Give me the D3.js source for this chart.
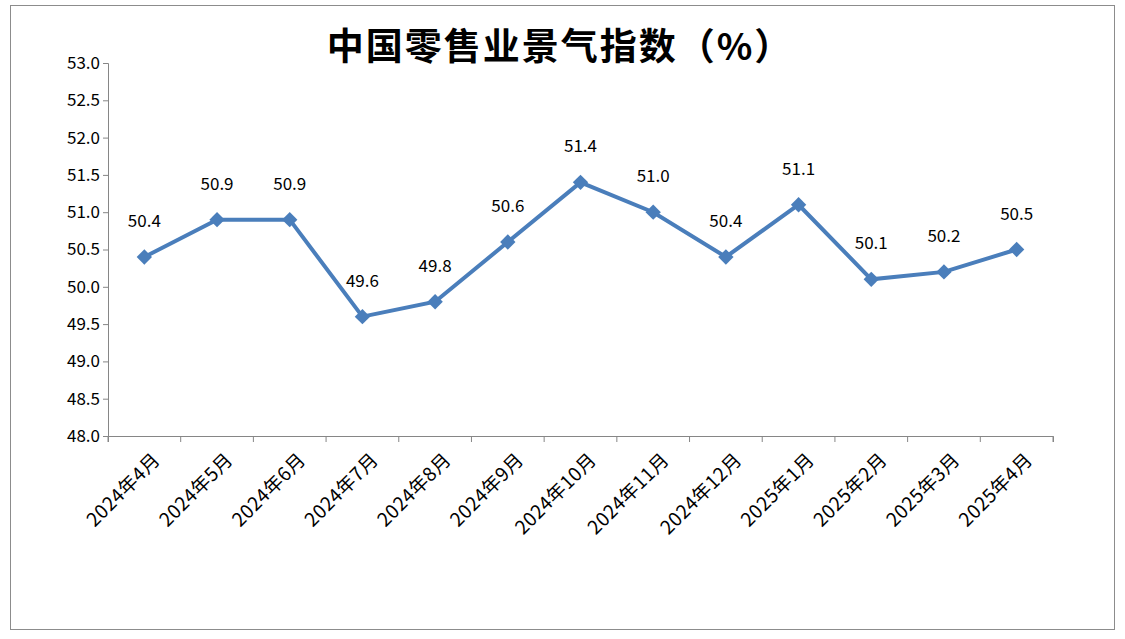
<!DOCTYPE html><html><head><meta charset="utf-8"><script src="https://cdn.jsdelivr.net/npm/d3@7"></script>
<style>body{margin:0;background:#fff}</style></head><body><svg id="c" width="1125" height="639"></svg>
<script>
const categories=["2024年4月","2024年5月","2024年6月","2024年7月","2024年8月","2024年9月","2024年10月","2024年11月","2024年12月","2025年1月","2025年2月","2025年3月","2025年4月"];
const values=[50.4,50.9,50.9,49.6,49.8,50.6,51.4,51.0,50.4,51.1,50.1,50.2,50.5];
const yTicks=[48.0,48.5,49.0,49.5,50.0,50.5,51.0,51.5,52.0,52.5,53.0];
const title="中国零售业景气指数（%）";
const svg=d3.select("#c");
const font="'Noto Sans CJK SC','Noto Sans',sans-serif";
svg.append("rect").attr("x",10.5).attr("y",5.5).attr("width",1104).attr("height",624).attr("fill","none").attr("stroke","#8c8c8c");
const x=d3.scaleBand().domain(categories).range([108,1053]);
const y=d3.scaleLinear().domain([48,53]).range([436,63]);
const c="#4a7ebb";
const ya=svg.append("g").attr("transform","translate(108,0)").call(d3.axisLeft(y).tickValues(yTicks).tickFormat(d3.format(".1f")).tickSizeOuter(0).tickSize(5));
ya.selectAll("text").attr("font-family",font).attr("font-size",17).attr("fill","#000");
ya.selectAll("line,path").attr("stroke","#868686");
const xa=svg.append("g").attr("transform","translate(0,436)").call(d3.axisBottom(x).tickSizeOuter(0).tickSize(6));
xa.selectAll(".tick line").attr("transform",`translate(${-x.bandwidth()/2},0)`);
xa.append("line").attr("x1",1053).attr("x2",1053).attr("y1",0).attr("y2",6).attr("stroke","#868686");
xa.selectAll("line,path").attr("stroke","#868686");
xa.selectAll("text").attr("font-family",font).attr("font-size",19).attr("letter-spacing","0.5px").attr("fill","#000")
 .attr("text-anchor","end").attr("dy","0.35em").attr("transform","translate(6,14) rotate(-45)");
const cx=d=>x(d)+x.bandwidth()/2;
svg.append("path").datum(values).attr("fill","none").attr("stroke",c).attr("stroke-width",4)
 .attr("d",d3.line().x((d,i)=>cx(categories[i])).y(d=>y(d)));
svg.selectAll(".m").data(values).enter().append("path").attr("fill",c)
 .attr("transform",(d,i)=>`translate(${cx(categories[i])},${y(d)})`).attr("d",d3.symbol(d3.symbolDiamond2,150)());
svg.selectAll(".l").data(values).enter().append("text").attr("font-family",font).attr("font-size",17)
 .attr("text-anchor","middle").attr("x",(d,i)=>cx(categories[i])).attr("y",d=>y(d)-30).text(d=>d.toFixed(1));
svg.append("text").attr("x",560).attr("y",60).attr("text-anchor","middle").attr("font-family",font).attr("font-weight","bold").attr("font-size",37).attr("letter-spacing","2px").text(title);
</script></body></html>
